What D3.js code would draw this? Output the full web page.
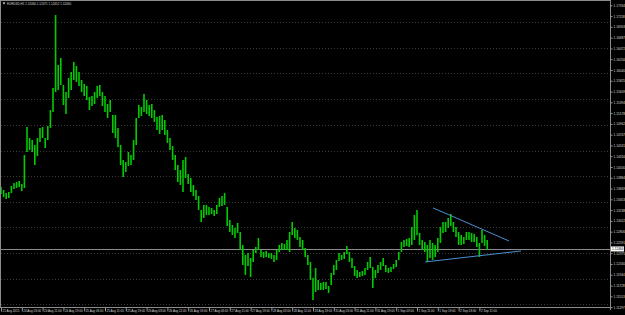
<!DOCTYPE html>
<html>
<head>
<meta charset="utf-8" />
<title>EURUSD,H1</title>
<script src="https://d3js.org/d3.v7.min.js"></script>
<style>
  html, body { margin: 0; padding: 0; background: #000; }
  svg { display: block; }
  text { font-family: "Liberation Sans", Arial, sans-serif; }
</style>
</head>
<body>
<svg id="chart" width="625" height="315"></svg>
<script>
// H1 bars (bar 0 = 21 Aug 2015 19:00)
const highs = [
  1.1370, 1.1364, 1.1358, 1.1360, 1.1372, 1.1378, 1.1380, 1.1382, 1.1376, 1.1434,
  1.1490, 1.1468, 1.1464, 1.1454, 1.1468, 1.1488, 1.1490, 1.1468, 1.1492, 1.1524,
  1.1568, 1.1714, 1.1614, 1.1628, 1.1574, 1.1560, 1.1588, 1.1600, 1.1620, 1.1612,
  1.1600, 1.1584, 1.1576, 1.1572, 1.1550, 1.1552, 1.1560, 1.1572, 1.1574, 1.1560,
  1.1552, 1.1536, 1.1544, 1.1514, 1.1514, 1.1488, 1.1454, 1.1424, 1.1420, 1.1440,
  1.1434, 1.1464, 1.1508, 1.1534, 1.1530, 1.1556, 1.1544, 1.1534, 1.1536, 1.1524,
  1.1510, 1.1512, 1.1514, 1.1504, 1.1484, 1.1468, 1.1452, 1.1434, 1.1414, 1.1404,
  1.1424, 1.1430, 1.1396, 1.1388, 1.1374, 1.1364, 1.1352, 1.1324, 1.1334, 1.1334,
  1.1330, 1.1328, 1.1324, 1.1334, 1.1348, 1.1352, 1.1358, 1.1330, 1.1304, 1.1294,
  1.1288, 1.1298, 1.1280, 1.1254, 1.1234, 1.1238, 1.1228, 1.1244, 1.1250, 1.1268,
  1.1244, 1.1240, 1.1242, 1.1238, 1.1238, 1.1234, 1.1244, 1.1254, 1.1258, 1.1256,
  1.1264, 1.1280, 1.1300, 1.1288, 1.1284, 1.1270, 1.1264, 1.1248, 1.1234, 1.1220,
  1.1188, 1.1208, 1.1184, 1.1178, 1.1180, 1.1180, 1.1172, 1.1198, 1.1214, 1.1224,
  1.1238, 1.1234, 1.1240, 1.1252, 1.1240, 1.1228, 1.1212, 1.1204, 1.1200, 1.1202,
  1.1208, 1.1220, 1.1230, 1.1210, 1.1204, 1.1214, 1.1220, 1.1228, 1.1214, 1.1208,
  1.1210, 1.1216, 1.1224, 1.1240, 1.1260, 1.1264, 1.1266, 1.1268, 1.1290, 1.1314,
  1.1324, 1.1278, 1.1264, 1.1260, 1.1254, 1.1264, 1.1258, 1.1254, 1.1268, 1.1290,
  1.1300, 1.1300, 1.1308, 1.1316, 1.1300, 1.1290, 1.1280, 1.1274, 1.1270, 1.1280,
  1.1280, 1.1278, 1.1276, 1.1270, 1.1258, 1.1284, 1.1274, 1.1264
];
const lows = [
  1.1356, 1.1350, 1.1346, 1.1348, 1.1358, 1.1366, 1.1368, 1.1370, 1.1362, 1.1368,
  1.1440, 1.1444, 1.1440, 1.1414, 1.1432, 1.1460, 1.1468, 1.1448, 1.1464, 1.1488,
  1.1520, 1.1560, 1.1564, 1.1574, 1.1534, 1.1516, 1.1548, 1.1564, 1.1584, 1.1580,
  1.1572, 1.1560, 1.1552, 1.1544, 1.1524, 1.1532, 1.1536, 1.1548, 1.1552, 1.1532,
  1.1520, 1.1508, 1.1520, 1.1478, 1.1468, 1.1450, 1.1414, 1.1390, 1.1400, 1.1412,
  1.1414, 1.1424, 1.1454, 1.1508, 1.1512, 1.1520, 1.1516, 1.1512, 1.1508, 1.1500,
  1.1484, 1.1476, 1.1484, 1.1474, 1.1458, 1.1444, 1.1424, 1.1404, 1.1380, 1.1374,
  1.1360, 1.1388, 1.1376, 1.1360, 1.1352, 1.1344, 1.1324, 1.1300, 1.1308, 1.1314,
  1.1314, 1.1316, 1.1312, 1.1316, 1.1330, 1.1332, 1.1334, 1.1292, 1.1280, 1.1274,
  1.1268, 1.1278, 1.1244, 1.1214, 1.1194, 1.1212, 1.1190, 1.1220, 1.1238, 1.1244,
  1.1230, 1.1228, 1.1230, 1.1228, 1.1226, 1.1220, 1.1224, 1.1240, 1.1244, 1.1244,
  1.1244, 1.1240, 1.1274, 1.1268, 1.1264, 1.1250, 1.1244, 1.1230, 1.1214, 1.1184,
  1.1144, 1.1160, 1.1164, 1.1164, 1.1164, 1.1166, 1.1158, 1.1174, 1.1194, 1.1204,
  1.1222, 1.1224, 1.1226, 1.1236, 1.1220, 1.1208, 1.1192, 1.1188, 1.1190, 1.1192,
  1.1194, 1.1204, 1.1208, 1.1168, 1.1188, 1.1198, 1.1204, 1.1212, 1.1200, 1.1198,
  1.1200, 1.1206, 1.1210, 1.1224, 1.1240, 1.1250, 1.1252, 1.1250, 1.1254, 1.1264,
  1.1274, 1.1254, 1.1244, 1.1240, 1.1220, 1.1228, 1.1224, 1.1230, 1.1240, 1.1258,
  1.1278, 1.1280, 1.1288, 1.1292, 1.1280, 1.1270, 1.1254, 1.1254, 1.1256, 1.1264,
  1.1264, 1.1260, 1.1260, 1.1250, 1.1230, 1.1258, 1.1252, 1.1244
];

const priceTicks = [
  1.17334, 1.17118, 1.16903, 1.16687, 1.16472, 1.16256, 1.16040, 1.15825, 1.15609, 1.15394,
  1.15178, 1.14962, 1.14747, 1.14531, 1.14316, 1.14100, 1.13884, 1.13669, 1.13453, 1.13238,
  1.13022, 1.12806, 1.12591, 1.12375, 1.12160, 1.11944, 1.11728, 1.11513, 1.11297
];
const gridPrices = [1.1700, 1.1648, 1.1598, 1.1546, 1.1494, 1.1442, 1.1392, 1.1340, 1.1290, 1.1238, 1.1186, 1.1136];

const timeIdx = [0, 8, 16, 24, 32, 40, 48, 56, 64, 72, 80, 88, 96, 104, 112, 120, 128, 136, 144, 152, 160, 168, 176, 184];
const timeLabels = [
  "21 Aug 2015", "24 Aug 03:00", "24 Aug 11:00", "24 Aug 19:00", "25 Aug 03:00", "25 Aug 11:00",
  "25 Aug 19:00", "26 Aug 03:00", "26 Aug 11:00", "26 Aug 19:00", "27 Aug 03:00", "27 Aug 11:00",
  "27 Aug 19:00", "28 Aug 03:00", "28 Aug 11:00", "28 Aug 19:00", "31 Aug 03:00", "31 Aug 11:00",
  "31 Aug 19:00", "1 Sep 03:00", "1 Sep 11:00", "1 Sep 19:00", "2 Sep 03:00", "2 Sep 11:00"
];

const lastPrice = 1.12460;
const quote = ["1.12460", "1.12471", "1.12452", "1.12460"];

// trend lines: [bar index, price]
const trendUpper = [[166.2, 1.1328], [195.4, 1.1262]];
const trendLower = [[163.1, 1.1220], [200.0, 1.1242]];

const svg = d3.select("#chart");
const W = 625, H = 315;
const plotRight = 610, plotBottom = 307;

svg.append("rect").attr("width", W).attr("height", H).attr("fill", "#000");

const x = d3.scaleLinear().domain([0, 184]).range([1, 479.4]);
const y = d3.scaleLinear().domain([1.17334, 1.11297]).range([5.3, 307.1]);

// grid
svg.append("g")
  .selectAll("line")
  .data(gridPrices)
  .enter()
  .append("line")
  .attr("x1", 1)
  .attr("x2", plotRight)
  .attr("y1", (d) => Math.round(y(d)) + 0.5)
  .attr("y2", (d) => Math.round(y(d)) + 0.5)
  .attr("stroke", "#3a3a3a")
  .attr("stroke-dasharray", "1,2");

// current price line
svg.append("line")
  .attr("x1", 1).attr("x2", plotRight)
  .attr("y1", Math.round(y(lastPrice)) + 0.5)
  .attr("y2", Math.round(y(lastPrice)) + 0.5)
  .attr("stroke", "#8a8a8a");

// bars
svg.append("g")
  .selectAll("line")
  .data(highs)
  .enter()
  .append("line")
  .attr("x1", (d, i) => x(i))
  .attr("x2", (d, i) => x(i))
  .attr("y1", (d) => y(d))
  .attr("y2", (d, i) => y(lows[i]))
  .attr("stroke", "#00cc00")
  .attr("stroke-width", 1.6);

// trend lines
[trendUpper, trendLower].forEach((t) => {
  svg.append("line")
    .attr("x1", x(t[0][0])).attr("y1", y(t[0][1]))
    .attr("x2", x(t[1][0])).attr("y2", y(t[1][1]))
    .attr("stroke", "#4a90d0")
    .attr("stroke-width", 1);
});

// frame
svg.append("line").attr("x1", 0).attr("x2", plotRight).attr("y1", 0.5).attr("y2", 0.5).attr("stroke", "#8c8c8c");
svg.append("line").attr("x1", 0.5).attr("x2", 0.5).attr("y1", 0).attr("y2", plotBottom).attr("stroke", "#8c8c8c");

// price axis
const yAxis = d3.axisRight(y).tickValues(priceTicks).tickFormat(d3.format(".5f")).tickSize(2).tickPadding(1);
const ya = svg.append("g").attr("transform", "translate(" + (plotRight + 0.5) + ",0)").call(yAxis);
ya.select(".domain").attr("stroke", "#8c8c8c").attr("d", "M0,0V" + (plotBottom + 3));
ya.selectAll(".tick line").attr("stroke", "#9a9a9a");
ya.selectAll(".tick text").attr("fill", "#d8d8d8").attr("font-size", 3.2);

// time axis
const xAxis = d3.axisBottom(x).tickValues(timeIdx).tickFormat((d, i) => timeLabels[i]).tickSize(4);
const xa = svg.append("g").attr("transform", "translate(0," + (plotBottom + 0.5) + ")").call(xAxis);
xa.select(".domain").attr("stroke", "#8c8c8c").attr("d", "M0,0H" + plotRight);
xa.selectAll(".tick line").attr("stroke", "#9a9a9a");
xa.selectAll(".tick text")
  .attr("fill", "#d8d8d8")
  .attr("font-size", 3.0)
  .attr("text-anchor", "start")
  .attr("x", 1)
  .attr("y", 2)
  .attr("dy", "0.71em");

// last price box
const ly = y(lastPrice);
svg.append("rect").attr("x", plotRight + 1).attr("y", ly - 2.5).attr("width", 13).attr("height", 5).attr("fill", "#ffffff");
svg.append("text").attr("x", plotRight + 2).attr("y", ly).attr("dy", "0.35em")
  .attr("font-size", 3.2).attr("fill", "#000").text(d3.format(".5f")(lastPrice));

// title
svg.append("path").attr("d", "M2.5,2.5L5.5,2.5L4,4.5Z").attr("fill", "#e0e0e0");
svg.append("text").attr("x", 7).attr("y", 4.6).attr("font-size", 3.0).attr("fill", "#d8d8d8")
  .text("EURUSD,H1  " + quote.join(" "));
</script>
</body>
</html>
